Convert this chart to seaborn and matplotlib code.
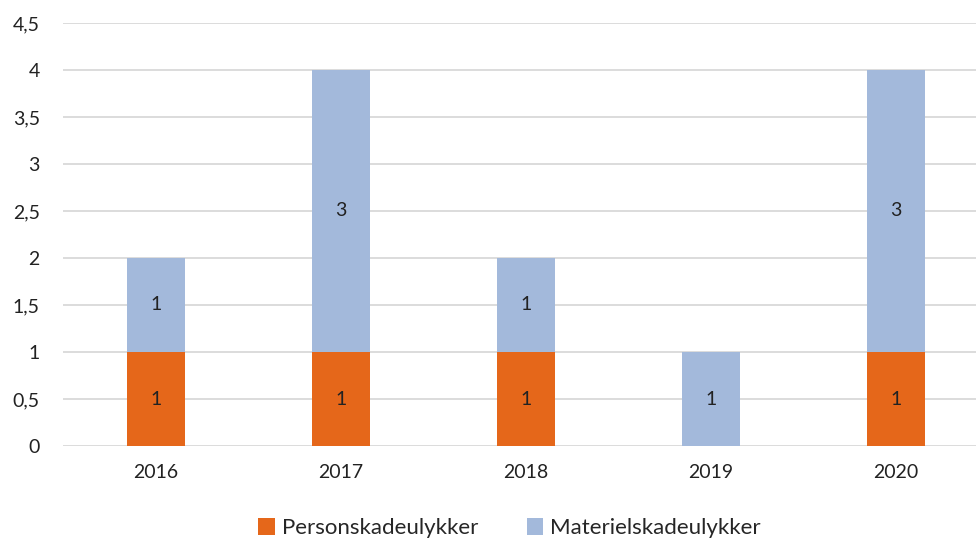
import pandas as pd
import matplotlib.pyplot as plt
import seaborn as sns

# Data
years = ['2016', '2017', '2018', '2019', '2020']
personskade = [1, 1, 1, 0, 1]
materielskade = [1, 3, 1, 1, 3]

orange = '#E5671A'
blue = '#A3B9DB'

sns.set_style('white')
plt.rcParams['font.family'] = ['Lato', 'DejaVu Sans']

df = pd.DataFrame({'År': years, 'Person': personskade, 'Materiel': materielskade})
df['Total'] = df['Person'] + df['Materiel']

fig = plt.figure(figsize=(9.76, 5.39), dpi=100)
ax = fig.add_axes([0.065, 0.1725, 0.948, 0.785])

# Stablede søjler: total først, personskade ovenpå
sns.barplot(x='År', y='Total', data=df, color=blue, width=0.315, ax=ax,
            saturation=1, label='Materielskadeulykker', zorder=2, linewidth=0)
sns.barplot(x='År', y='Person', data=df, color=orange, width=0.315, ax=ax,
            saturation=1, label='Personskadeulykker', zorder=3, linewidth=0)

# Datalabels
for i, (p, m) in enumerate(zip(personskade, materielskade)):
    if p > 0:
        ax.text(i, p / 2, str(p), ha='center', va='center', fontsize=14, color='#222222', zorder=4)
    if m > 0:
        ax.text(i, p + m / 2, str(m), ha='center', va='center', fontsize=14, color='#222222', zorder=4)

ax.set_ylim(0, 4.5)
yt = [0, 0.5, 1, 1.5, 2, 2.5, 3, 3.5, 4, 4.5]
ax.set_yticks(yt)
ax.set_yticklabels([('%g' % v).replace('.', ',') for v in yt])
ax.yaxis.grid(True, color='#D9D9D9', linewidth=1.3, zorder=0)
ax.set_axisbelow(True)
for s in ax.spines.values():
    s.set_visible(False)
ax.tick_params(axis='both', length=0, labelsize=14, colors='#222222')
ax.tick_params(axis='y', pad=17)
ax.tick_params(axis='x', pad=13)
ax.set_xlabel('')
ax.set_ylabel('')

handles, labels = ax.get_legend_handles_labels()
order = [labels.index('Personskadeulykker'), labels.index('Materielskadeulykker')]
fig.legend([handles[k] for k in order], [labels[k] for k in order],
           loc='center', bbox_to_anchor=(0.522, 0.02), ncol=2, frameon=False,
           fontsize=16, handlelength=0.75, handleheight=0.75, handletextpad=0.3,
           columnspacing=2.2)
if ax.get_legend():
    ax.get_legend().remove()

plt.savefig('out.png', dpi=100)
